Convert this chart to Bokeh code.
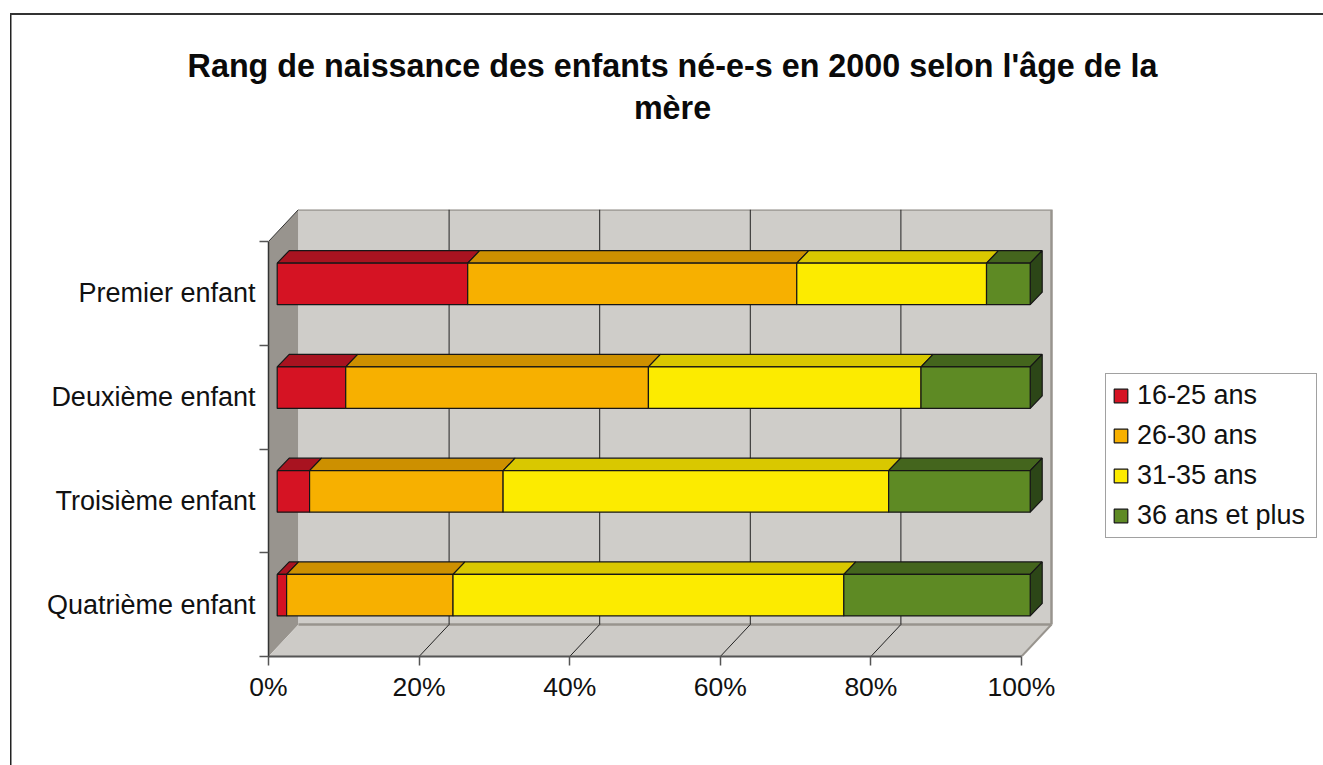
from bokeh.embed import file_html
from bokeh.resources import INLINE
from bokeh.plotting import figure
from bokeh.models import (Range1d, LinearAxis, FixedTicker, Legend, LegendItem, Title)

categories = ["Quatrième enfant", "Troisième enfant", "Deuxième enfant", "Premier enfant"]
age_16_25 = [1.25, 4.3, 9.1, 25.3]
age_26_30 = [22.1, 25.7, 40.2, 43.7]
age_31_35 = [51.9, 51.2, 36.2, 25.2]
age_36_plus = [24.75, 18.8, 14.5, 5.8]
series_names = ["16-25 ans", "26-30 ans", "31-35 ans", "36 ans et plus"]
series_values = [age_16_25, age_26_30, age_31_35, age_36_plus]
front_colors = ["#D51323", "#F7B000", "#FCEB00", "#5E8A24"]
top_colors = ["#A81320", "#CD9000", "#D9C800", "#44651D"]
side_color = "#2C4617"
x_ticks = [0, 20, 40, 60, 80, 100]
title_line_1 = "Rang de naissance des enfants né-e-s en 2000 selon l'âge de la"
title_line_2 = "mère"

FONT = "Liberation Sans"
PX_X = 7.53       # pixels per percent
PX_Y = 103.75     # pixels per category slot
wall_dx, wall_dy = 30 / PX_X, 32 / PX_Y
bar_off_x, bar_off_y = 8.7 / PX_X, 9.5 / PX_Y
bar_dx, bar_dy = 12 / PX_X, 12.5 / PX_Y
bar_h = 41.5 / PX_Y
n = len(categories)

# outer chart border: runs off the page at right and bottom
border_css = ("linear-gradient(#333,#333) 10px 13px / 1323px 2px no-repeat,"
              "linear-gradient(#222,#222) 10px 13px / 1.5px 765px no-repeat,white")

p = figure(width=1323, height=765, frame_width=808, frame_height=447,
           output_backend="svg", toolbar_location=None,
           x_range=Range1d(0, 808 / PX_X), y_range=Range1d(0, 447 / PX_Y),
           x_axis_location=None, y_axis_location=None,
           min_border_left=268, min_border_top=209, min_border_right=247,
           min_border_bottom=109, outline_line_color=None,
           background_fill_color="white", border_fill_color=None,
           styles={"background": border_css})
p.grid.visible = False

# walls and floor
wx, wy = wall_dx, wall_dy
p.patch([0, wx, wx, 0], [n, n + wy, wy, 0], fill_color="#98948E", line_color=None)
p.patch([wx, 100 + wx, 100 + wx, wx], [n + wy, n + wy, wy, wy],
        fill_color="#CFCDC9", line_color=None)
p.patch([0, wx, 100 + wx, 100], [0, wy, wy, 0], fill_color="#CDCBC7", line_color=None)

# wall outlines
p.line([wx, 100 + wx, 100 + wx], [n + wy, n + wy, wy], line_color="#98948E", line_width=2.5)
p.line([wx, 100 + wx], [wy, wy], line_color="#98948E", line_width=2.5)
p.line([0, wx], [n, n + wy], line_color="#333333", line_width=1)
p.line([100, 100 + wx], [0, wy], line_color="#98948E", line_width=2)

# gridlines on back wall and floor
inner = x_ticks[1:-1]
p.segment([t + wx for t in inner], [wy] * len(inner), [t + wx for t in inner],
          [n + wy] * len(inner), line_color="#222222", line_width=1)
p.segment(inner, [0] * len(inner), [t + wx for t in inner], [wy] * len(inner),
          line_color="#222222", line_width=1)

# 3-D stacked bars
EDGE = "#161616"
legend_items = []
for s, (name, vals) in enumerate(zip(series_names, series_values)):
    lefts = [sum(series_values[k][r] for k in range(s)) + bar_off_x for r in range(n)]
    rights = [l + v for l, v in zip(lefts, vals)]
    bottoms = [r + 0.5 + bar_off_y - bar_h / 2 for r in range(n)]
    tops = [b + bar_h for b in bottoms]
    p.patches([[l, l + bar_dx, rr + bar_dx, rr] for l, rr in zip(lefts, rights)],
              [[t, t + bar_dy, t + bar_dy, t] for t in tops],
              fill_color=top_colors[s], line_color=EDGE, line_width=1.2)
    if s == len(series_names) - 1:
        p.patches([[rr, rr + bar_dx, rr + bar_dx, rr] for rr in rights],
                  [[b, b + bar_dy, t + bar_dy, t] for b, t in zip(bottoms, tops)],
                  fill_color=side_color, line_color=EDGE, line_width=1.2)
    front = p.quad(left=lefts, right=rights, bottom=bottoms, top=tops,
                   fill_color=front_colors[s], line_color=EDGE, line_width=1.2)
    legend_items.append(LegendItem(label=name, renderers=[front]))

# axes
xaxis = LinearAxis(ticker=FixedTicker(ticks=x_ticks), bounds=(0, 100),
                   axis_line_color="#555555", axis_line_width=2,
                   major_tick_line_color="#555555", major_tick_line_width=1.5,
                   major_tick_out=9, major_tick_in=0, minor_tick_line_color=None,
                   major_label_text_font=FONT, major_label_text_font_size="26.5px",
                   major_label_text_color="#111111", major_label_standoff=6)
xaxis.major_label_overrides = {t: f"{t}%" for t in x_ticks}
p.add_layout(xaxis, "below")

ytick_axis = LinearAxis(ticker=FixedTicker(ticks=list(range(n + 1))), bounds=(0, n),
                        axis_line_color="#333333", axis_line_width=1.5,
                        major_tick_line_color="#555555", major_tick_line_width=1.5,
                        major_tick_out=9, major_tick_in=0, minor_tick_line_color=None,
                        major_label_text_font_size="0px", major_label_standoff=0)
ytick_axis.major_label_overrides = {i: "" for i in range(n + 1)}
p.add_layout(ytick_axis, "left")

slots = [i + 0.5 for i in range(n)]
ylabel_axis = LinearAxis(ticker=FixedTicker(ticks=slots), axis_line_color=None,
                         major_tick_line_color=None, minor_tick_line_color=None,
                         major_label_text_font=FONT, major_label_text_font_size="27px",
                         major_label_text_color="#111111", major_label_standoff=-2)
ylabel_axis.major_label_overrides = dict(zip(slots, categories))
p.add_layout(ylabel_axis, "left")

# title: two centred lines, lifted above the plot by a blank spacer panel
p.title = None
p.add_layout(Title(text=" ", text_font=FONT, text_font_size="1px", standoff=79), "above")
p.add_layout(Title(text=title_line_2, align="center", text_font=FONT,
                   text_font_size="32.3px", text_font_style="bold", text_color="#0a0a0a",
                   standoff=4), "above")
p.add_layout(Title(text=title_line_1, align="center", text_font=FONT, text_font_size="32.3px",
                   text_font_style="bold", text_color="#0a0a0a", standoff=4), "above")

# legend
legend = Legend(items=legend_items, location=(29, 118), orientation="vertical",
                border_line_color="#444444", border_line_width=1.5,
                background_fill_color="white", background_fill_alpha=1,
                label_text_font=FONT, label_text_font_size="27px",
                label_text_color="#111111", glyph_width=17, glyph_height=17,
                label_standoff=8, padding=6, spacing=9, margin=0, label_height=24,
                label_width=173)
p.add_layout(legend, "right")

open("out.html", "w").write(file_html(p, INLINE))
